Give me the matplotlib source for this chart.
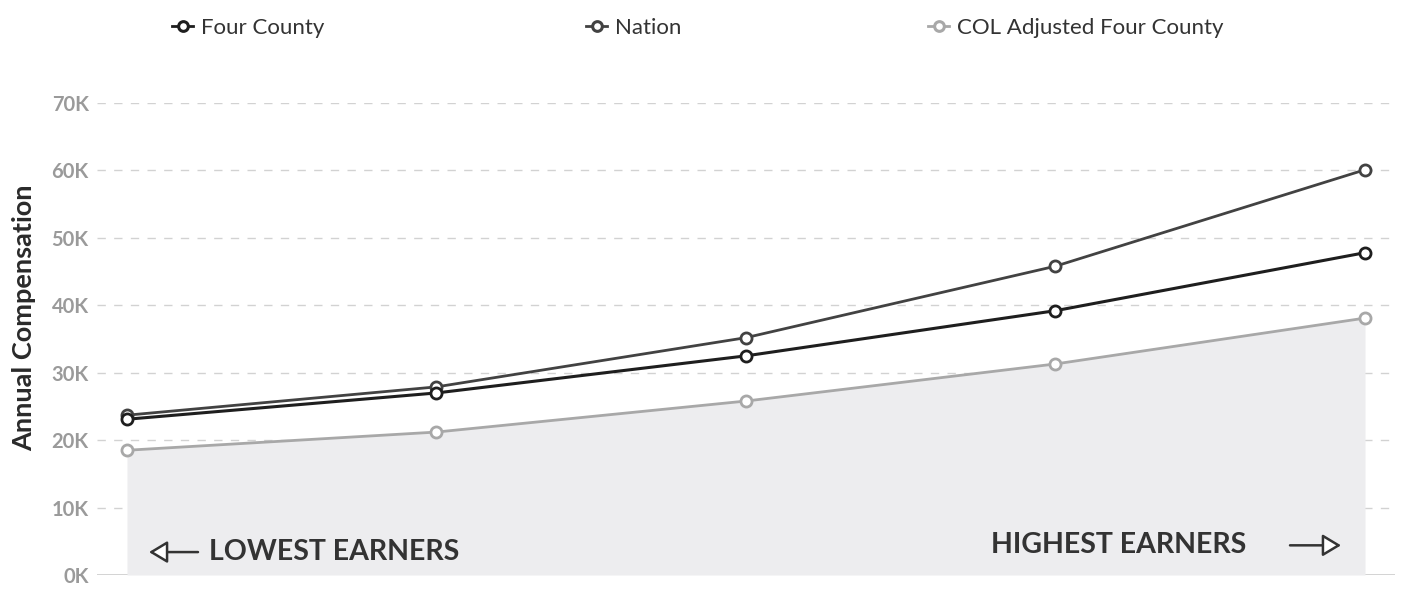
import matplotlib
matplotlib.use("Agg")
import matplotlib.pyplot as plt
from matplotlib.lines import Line2D
from matplotlib.ticker import FuncFormatter

# ---- data ----
groups = ["Q1", "Q2", "Q3", "Q4", "Q5"]
four_county = [23100, 27000, 32500, 39200, 47800]
nation = [23700, 27900, 35200, 45800, 60100]
col_adjusted = [18500, 21200, 25800, 31300, 38100]
y_ticks = [0, 10000, 20000, 30000, 40000, 50000, 60000, 70000]
series_names = ["Four County", "Nation", "COL Adjusted Four County"]

plt.rcParams['font.family'] = ['Lato', 'DejaVu Sans']

W, H = 1406, 590
fig = plt.figure(figsize=(W / 100, H / 100), dpi=100)

ax_left, ax_right = 97, 1395
ax_bottom, ax_top = 575, 103
ax = fig.add_axes([ax_left / W, (H - ax_bottom) / H,
                   (ax_right - ax_left) / W, (ax_bottom - ax_top) / H])

x = list(range(len(groups)))
c_fc, c_nat, c_col = "#1e1e1e", "#424242", "#a8a8a8"

ax.fill_between(x, 0, col_adjusted, color="#ededef", lw=0, zorder=1)

for yt in y_ticks[1:]:
    ax.axhline(yt, color="#d2d2d2", lw=1.0, dashes=(6, 6), zorder=0.5)
ax.axhline(0, color="#cccccc", lw=1.2, zorder=0.6)

mk = dict(marker="o", markersize=8, markerfacecolor="white", markeredgewidth=2.0,
          clip_on=False)
ax.plot(x, col_adjusted, color=c_col, lw=2.0, markeredgecolor=c_col, zorder=3, **mk)
ax.plot(x, nation, color=c_nat, lw=2.0, markeredgecolor=c_nat, zorder=4, **mk)
ax.plot(x, four_county, color=c_fc, lw=2.2, markeredgecolor=c_fc, zorder=5, **mk)

# x positions: point 0 at px 127, point 4 at px 1365
unit = (1365 - 127) / 4
ax.set_xlim(-(127 - ax_left) / unit, 4 + (ax_right - 1365) / unit)
ax.set_ylim(0, 70000)
ax.set_yticks(y_ticks)
ax.yaxis.set_major_formatter(FuncFormatter(lambda v, p: f"{int(v/1000)}K"))
ax.set_xticks([])
ax.tick_params(axis="y", length=0, pad=6, labelsize=14.5, labelcolor="#9a9a9a")
for lab in ax.get_yticklabels():
    lab.set_fontweight("bold")
for s in ax.spines.values():
    s.set_visible(False)

fig.text(24 / W, (H - 318) / H, "Annual Compensation", rotation=90, ha="center",
         va="center", fontsize=19.5, fontweight="bold", color="#2a2a2a")


def px2x(px):
    return (px - 127) / unit


arrow_kw = dict(arrowstyle="-|>,head_length=0.75,head_width=0.45",
                mutation_scale=15, ec="#333333", fc="white", lw=1.8,
                shrinkA=0, shrinkB=0)

# annotations
y_low, y_high = 3400, 4400
ax.text(px2x(209), y_low, "LOWEST EARNERS", fontsize=20.5, fontweight="bold",
        color="#333333", ha="left", va="center")
ax.annotate("", xy=(px2x(149), y_low), xytext=(px2x(198), y_low),
            arrowprops=arrow_kw)
ax.text(px2x(1246), y_high, "HIGHEST EARNERS", fontsize=20.5, fontweight="bold",
        color="#333333", ha="right", va="center")
ax.annotate("", xy=(px2x(1341), y_high), xytext=(px2x(1290), y_high),
            arrowprops=arrow_kw)

# legend (three separate entries)
leg_pos = [172, 586, 928]
leg_cols = [c_fc, c_nat, c_col]
for name, px, col in zip(series_names, leg_pos, leg_cols):
    h = Line2D([], [], color=col, lw=2, marker="o", markersize=7,
               markerfacecolor="white", markeredgecolor=col, markeredgewidth=2.2)
    fig.legend([h], [name], loc="center left",
               bbox_to_anchor=(px / W, (H - 28) / H), frameon=False,
               handlelength=0.95, handletextpad=0.35, borderpad=0, borderaxespad=0,
               prop={"size": 16}, labelcolor="#333333")

fig.savefig("out.png", dpi=100)
